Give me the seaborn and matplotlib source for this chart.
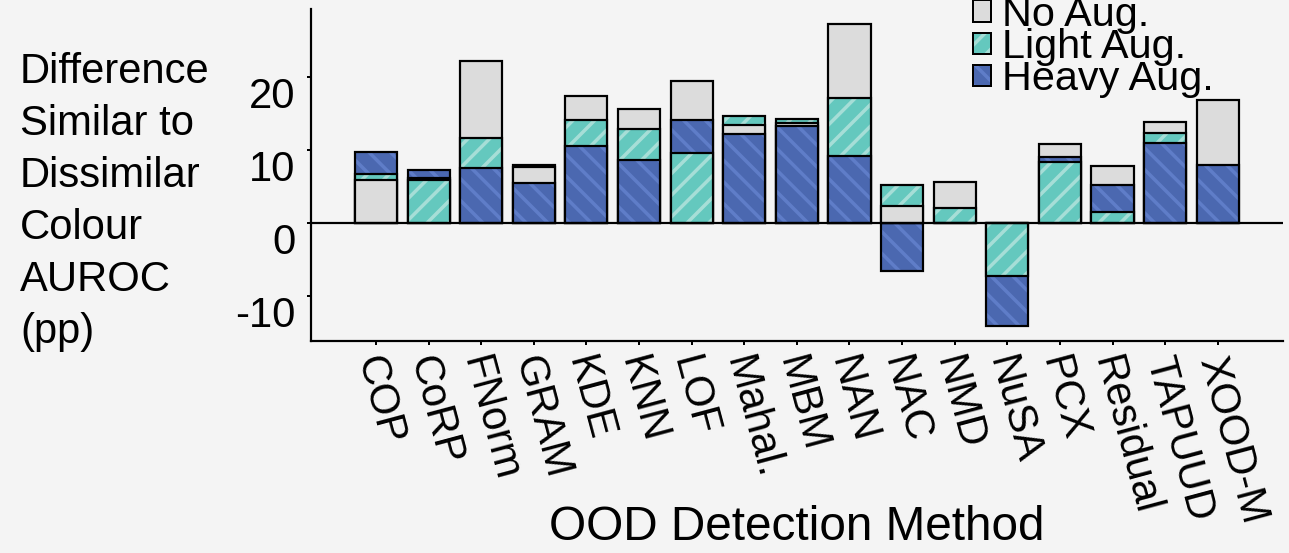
import matplotlib
matplotlib.use("Agg")
import matplotlib.pyplot as plt
from matplotlib.patches import Patch, Rectangle
from matplotlib.legend_handler import HandlerTuple
from matplotlib.transforms import ScaledTranslation
import seaborn as sns

# ---- data -------------------------------------------------------------
methods = ["COP", "CoRP", "FNorm", "GRAM", "KDE", "KNN", "LOF", "Mahal.",
           "MBM", "NAN", "NAC", "NMD", "NuSA", "PCX", "Residual", "TAPUUD",
           "XOOD-M"]
no_aug = [5.9, 6.1, 22.2, 7.6, 17.4, 15.6, 19.4, 13.35, 13.6, 27.2,
          2.25, 5.6, 0.0, 10.8, 7.7, 13.75, 16.85]
light_aug = [6.7, 5.8, 11.6, 7.95, 14.0, 12.9, 9.55, 14.65, 14.15, 17.1,
             5.15, 2.05, -7.3, 8.3, 1.5, 12.3, 0.0]
heavy_aug = [9.7, 7.25, 7.5, 5.5, 10.5, 8.6, 14.1, 12.15, 13.25, 9.2,
             -6.55, 0.0, -14.15, 9.05, 5.2, 10.9, 7.9]
series_names = ["No Aug.", "Light Aug.", "Heavy Aug."]
y_ticks = [-10, 0, 10, 20]

# ---- style -------------------------------------------------------------
DPI = 130
W, H = 1289, 553


def px(v):
    """pixels -> points"""
    return v * 72.0 / DPI


BG = "#f4f4f4"
GREY = "#dcdcdc"
TEAL, TEAL_STRIPE = "#64c8be", "#a6ded7"
BLUE, BLUE_STRIPE = "#4b68b0", "#5f7dc8"

sns.set_style("ticks")
plt.rcParams.update({
    "font.family": ["Liberation Sans", "DejaVu Sans"],
    "axes.unicode_minus": False,
    "figure.facecolor": BG,
    "axes.facecolor": BG,
    "savefig.facecolor": BG,
    "hatch.linewidth": px(3.5),
    "axes.edgecolor": "black",
    "axes.linewidth": px(2.2),
    "text.color": "black",
    "axes.labelcolor": "black",
    "xtick.color": "black",
    "ytick.color": "black",
})

FS = px(41.7)

fig = plt.figure(figsize=(W / DPI, H / DPI), dpi=DPI)
ax = fig.add_axes([310.7 / W, 1 - 340.7 / H, (1283 - 310.7) / W, (340.7 - 9) / H])

styles = [
    (no_aug, GREY, GREY, None),
    (light_aug, TEAL, TEAL_STRIPE, "//"),
    (heavy_aug, BLUE, BLUE_STRIPE, "\\\\"),
]

bars_by_series = []
for vals, fc, hc, hatch in styles:
    n0 = len(ax.patches)
    sns.barplot(x=methods, y=vals, order=methods, color=fc, saturation=1,
                width=0.8, errorbar=None, ax=ax, edgecolor=hc, linewidth=0)
    new = list(ax.patches[n0:])
    if hatch:
        for p in new:
            p.set_hatch(hatch)
    bars_by_series.append(new)

# overlay the three bars of each method: largest at the back, smallest in front
for i in range(len(methods)):
    trio = sorted((b[i] for b in bars_by_series), key=lambda p: -abs(p.get_height()))
    for rank, p in enumerate(trio):
        z = 2 + 2 * rank
        p.set_zorder(z)
        ax.add_patch(Rectangle(p.get_xy(), p.get_width(), p.get_height(),
                               fill=False, edgecolor="black", linewidth=px(2.2),
                               zorder=z + 1))

ax.axhline(0, color="black", linewidth=px(2.2), zorder=10)

ax.set_xlim(-1.24, 17.24)
ax.set_ylim(-16.16, 29.27)
sns.despine(ax=ax)

ax.tick_params(axis="both", length=px(4), width=px(2), color="black")
ax.tick_params(axis="x", pad=px(12))
ax.tick_params(axis="y", pad=px(11))

xt = ax.get_xticks()
ax.set_xticks(xt, methods, rotation=-75, ha="left", va="center",
              rotation_mode="anchor", fontsize=FS)
shift = ScaledTranslation(-8 / DPI, 0, fig.dpi_scale_trans)
for lbl in ax.get_xticklabels():
    lbl.set_transform(lbl.get_transform() + shift)
ax.set_yticks(y_ticks, [str(t) for t in y_ticks], va="top", fontsize=FS)

ax.set_xlabel("OOD Detection Method", fontsize=px(47.8), va="top")
ax.xaxis.set_label_coords(0.5, (340.7 - 505) / 331.7)

ax.set_ylabel("Difference\nSimilar to\nDissimilar\nColour\nAUROC\n(pp)",
              rotation=0, ha="left", va="top", fontsize=FS, linespacing=1.39)
ax.yaxis.set_label_coords((20 - 310.7) / 972.3, (340.7 - 52) / 331.7)

handles = [
    Patch(facecolor=GREY, edgecolor="black", linewidth=px(2)),
    (Patch(facecolor=TEAL, edgecolor=TEAL_STRIPE, hatch="//", linewidth=0),
     Patch(fill=False, edgecolor="black", linewidth=px(2))),
    (Patch(facecolor=BLUE, edgecolor=BLUE_STRIPE, hatch="\\\\", linewidth=0),
     Patch(fill=False, edgecolor="black", linewidth=px(2))),
]
fig.legend(handles, series_names, loc="upper left",
           bbox_to_anchor=(973 / W, 1 + 4 / H), frameon=False,
           fontsize=px(41.4), handlelength=0.44, handleheight=0.42,
           handletextpad=0.27, labelspacing=-0.14, borderpad=0,
           borderaxespad=0, handler_map={tuple: HandlerTuple(ndivide=1)})

fig.savefig("out.png", dpi=DPI)
